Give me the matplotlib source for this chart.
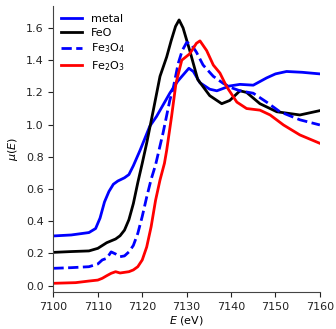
import matplotlib
matplotlib.use('Agg')
import matplotlib.pyplot as plt

# values (E in eV, mu(E) normalised)
e_metal = [7100, 7104, 7108, 7109.5, 7110.5, 7111.5, 7112.5, 7113.5, 7114.5, 7116, 7117, 7118,
           7119.5, 7121.7, 7123.2, 7126.2, 7128, 7130.5, 7131.5, 7133, 7135.2, 7136.8, 7139.7,
           7142, 7145, 7148, 7150, 7152.5, 7156, 7160]
mu_metal = [0.309, 0.315, 0.33, 0.355, 0.42, 0.52, 0.585, 0.63, 0.65, 0.67, 0.69, 0.745,
            0.84, 0.99, 1.05, 1.195, 1.27, 1.35, 1.33, 1.26, 1.22, 1.21, 1.24,
            1.25, 1.245, 1.29, 1.315, 1.33, 1.325, 1.315]

e_feo = [7100, 7104, 7108, 7110, 7112, 7114, 7115, 7116, 7117, 7118, 7119, 7120, 7121, 7122.5,
         7124, 7125.5, 7126.5, 7127.5, 7128.3, 7129.2, 7130.7, 7132.5, 7135.2, 7137.9, 7139.7,
         7142, 7143.5, 7146.5, 7150.3, 7155.5, 7160]
mu_feo = [0.207, 0.212, 0.216, 0.232, 0.267, 0.29, 0.31, 0.345, 0.41, 0.51, 0.64, 0.76, 0.885, 1.09,
          1.30, 1.42, 1.52, 1.61, 1.65, 1.60, 1.46, 1.28, 1.18, 1.13, 1.15,
          1.21, 1.20, 1.13, 1.08, 1.06, 1.087]

e_fe3o4 = [7100, 7104, 7108, 7110, 7111, 7112, 7113, 7114, 7115, 7116, 7117, 7118, 7119, 7120,
           7121, 7122, 7123, 7124.7, 7126.2, 7127, 7128.1, 7129, 7130, 7131, 7132.2, 7133.7,
           7136, 7138.2, 7140, 7142, 7145, 7148, 7151, 7155.5, 7160]
mu_fe3o4 = [0.108, 0.112, 0.118, 0.135, 0.16, 0.17, 0.21, 0.197, 0.18, 0.185, 0.21, 0.25, 0.325, 0.43,
            0.55, 0.66, 0.75, 0.95, 1.15, 1.23, 1.38, 1.46, 1.51, 1.50, 1.45, 1.37,
            1.30, 1.257, 1.23, 1.21, 1.195, 1.14, 1.08, 1.03, 0.998]

e_fe2o3 = [7100, 7105, 7108, 7110, 7111, 7112, 7113, 7114, 7115, 7116, 7117, 7118, 7119, 7120,
           7121, 7122, 7123, 7124, 7125, 7125.5, 7126.6, 7127.6, 7128.9, 7130.7, 7132.2, 7133,
           7134.5, 7136, 7137.5, 7139, 7141.3, 7143.5, 7146.5, 7148.8, 7151.8, 7155.5, 7160]
mu_fe2o3 = [0.015, 0.019, 0.029, 0.035, 0.046, 0.062, 0.077, 0.087, 0.079, 0.083, 0.087, 0.098, 0.118, 0.16,
            0.24, 0.366, 0.53, 0.656, 0.76, 0.84, 1.05, 1.257, 1.40, 1.44, 1.505, 1.52,
            1.46, 1.37, 1.32, 1.236, 1.14, 1.10, 1.09, 1.06, 0.998, 0.936, 0.884]

plt.rcParams['font.size'] = 8

fig = plt.figure(figsize=(3.36, 3.29), dpi=100)
ax = fig.add_axes([0.159, 0.1115, 0.793, 0.8705])

ax.plot(e_metal, mu_metal, color='blue', lw=2, label='metal')
ax.plot(e_feo, mu_feo, color='black', lw=2, label='FeO')
ax.plot(e_fe3o4, mu_fe3o4, color='blue', lw=2, ls='--', label='Fe$_3$O$_4$')
ax.plot(e_fe2o3, mu_fe2o3, color='red', lw=2, label='Fe$_2$O$_3$')

ax.set_xlim(7100, 7160)
ax.set_ylim(-0.041, 1.737)
ax.set_xticks(range(7100, 7161, 10))
ax.set_yticks([0.0, 0.2, 0.4, 0.6, 0.8, 1.0, 1.2, 1.4, 1.6])
ax.set_xlabel('$E$ (eV)', labelpad=1.5)
ax.set_ylabel('$\\mu(E)$')

for side in ('top', 'right'):
    ax.spines[side].set_visible(False)
for side in ('left', 'bottom'):
    ax.spines[side].set_color('#444444')
ax.tick_params(colors='#222222', length=3.5)

ax.legend(loc='upper left', frameon=False, fontsize=8, handlelength=1.9,
          borderaxespad=0.3, labelspacing=0.35)

plt.savefig('out.png', dpi=100)
plt.close()
